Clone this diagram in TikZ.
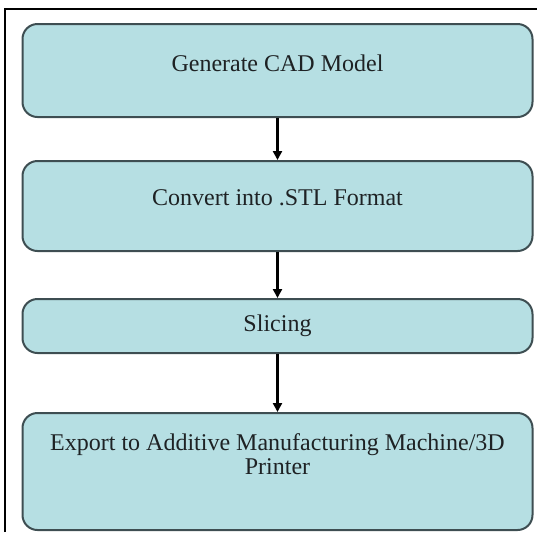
\documentclass[tikz,border=0pt]{standalone}
\usepackage{fontspec}
\setmainfont{Liberation Serif}
\usepackage{tikz}
\usetikzlibrary{positioning,arrows.meta}
\definecolor{flowfill}{HTML}{B6DFE3}
\definecolor{flowedge}{HTML}{3E4E52}
\definecolor{flowink}{HTML}{1E2224}

\begin{document}
\begin{tikzpicture}[
  font=\fontsize{12}{12}\selectfont,
  box/.style={draw=flowedge, fill=flowfill, line width=1pt, rounded corners=7.5pt, align=center, text=flowink, inner xsep=4pt, inner ysep=0pt, minimum width=255pt},
  arr/.style={-{Triangle[length=4.5pt,width=4.5pt]}, line width=1.3pt, draw=black},
  frm/.style={line width=1pt, draw=black}
]
\useasboundingbox (0,0) rectangle (268.5pt,-266pt);
\draw[frm] (2.5pt,-266pt) |- (268.5pt,-4.5pt);

\node[box, anchor=north, text height=23.5pt, text depth=23pt] (cad) at (138.75pt,-11.5pt) {Generate CAD Model};
\node[box, below=21pt of cad, text height=22pt, text depth=23pt] (stl) {Convert into .STL Format};
\node[box, below=23pt of stl, text height=16pt, text depth=11pt] (slc) {Slicing};
\node[box, below=29pt of slc, text height=30.5pt, text depth=28pt] (exp) {Export to Additive Manufacturing Machine/3D\\Printer};

\draw[arr] (cad) -- (stl);
\draw[arr] (stl) -- (slc);
\draw[arr] (slc) -- (exp);
\end{tikzpicture}
\end{document}
